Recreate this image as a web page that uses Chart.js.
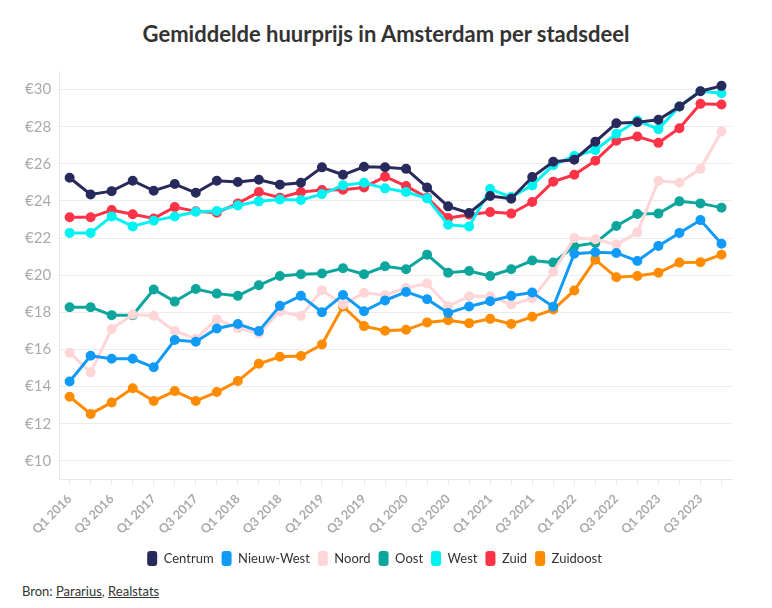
<!DOCTYPE html>
<html>
<head>
<meta charset="utf-8">
<script src="https://cdn.jsdelivr.net/npm/chart.js@4"></script>
<style>
  body { margin: 0; width: 772px; height: 608px; background: #fff; font-family: Lato, sans-serif; position: relative; overflow: hidden; }
  #title { position: absolute; top: 20px; left: 0; width: 772px; text-align: center; font-size: 22px; font-weight: bold; color: #333; }
  #wrap { position: absolute; top: 54px; left: 0; width: 772px; height: 522px; }
  #bron { position: absolute; top: 583px; left: 22px; font-size: 13px; color: #333; }
  #bron span { text-decoration: underline; }
</style>
</head>
<body>
<div id="title">Gemiddelde huurprijs in Amsterdam per stadsdeel</div>
<div id="wrap"><canvas id="chart"></canvas></div>
<div id="bron">Bron: <span>Pararius</span>, <span>Realstats</span></div>
<script>
// Quarters Q1 2016 .. Q4 2023
var quarters = [];
for (var y = 2016; y <= 2023; y++) {
    for (var q = 1; q <= 4; q++) {
        quarters.push('Q' + q + ' ' + y);
    }
}

var centrum = [25.25, 24.35, 24.53, 25.09, 24.55, 24.91, 24.44, 25.09, 25.02, 25.14, 24.88, 24.98, 25.81, 25.41, 25.84, 25.82,
    25.73, 24.73, 23.71, 23.35, 24.27, 24.12, 25.29, 26.11, 26.22, 27.19, 28.19, 28.24, 28.37, 29.09, 29.91, 30.2];
var nieuwWest = [14.28, 15.66, 15.5, 15.5, 15.04, 16.51, 16.42, 17.13, 17.37, 16.99, 18.35, 18.89, 18.01, 18.94, 18.06, 18.64,
    19.1, 18.71, 17.97, 18.32, 18.6, 18.89, 19.07, 18.3, 21.16, 21.24, 21.2, 20.77, 21.58, 22.28, 22.97, 21.7];
var noord = [15.83, 14.77, 17.1, 17.89, 17.82, 16.99, 16.58, 17.63, 17.15, 16.86, 18.05, 17.8, 19.19, 18.42, 19.05, 18.92,
    19.32, 19.55, 18.33, 18.87, 18.87, 18.42, 18.75, 20.18, 22.01, 21.94, 21.65, 22.31, 25.09, 24.98, 25.73, 27.74];
var oost = [18.28, 18.28, 17.85, 17.85, 19.23, 18.58, 19.26, 19.01, 18.89, 19.46, 19.96, 20.05, 20.09, 20.38, 20.05, 20.48,
    20.32, 21.11, 20.14, 20.23, 19.96, 20.32, 20.79, 20.68, 21.56, 21.74, 22.65, 23.3, 23.32, 23.98, 23.87, 23.64];
var west = [22.28, 22.28, 23.17, 22.63, 22.94, 23.16, 23.42, 23.46, 23.76, 23.98, 24.08, 24.05, 24.37, 24.84, 24.98, 24.68,
    24.48, 24.14, 22.72, 22.63, 24.64, 24.21, 24.84, 25.93, 26.42, 26.74, 27.62, 28.33, 27.87, 29.09, 29.91, 29.8];
var zuid = [23.12, 23.12, 23.51, 23.28, 23.06, 23.67, 23.44, 23.37, 23.87, 24.48, 24.18, 24.48, 24.59, 24.61, 24.73, 25.31,
    24.8, 24.19, 23.08, 23.26, 23.4, 23.32, 23.94, 25.04, 25.41, 26.17, 27.24, 27.47, 27.13, 27.92, 29.23, 29.2];
var zuidoost = [13.46, 12.53, 13.15, 13.91, 13.23, 13.76, 13.23, 13.71, 14.3, 15.23, 15.61, 15.65, 16.27, 18.32, 17.26, 17.01,
    17.06, 17.46, 17.58, 17.42, 17.65, 17.38, 17.76, 18.15, 19.18, 20.84, 19.89, 19.96, 20.13, 20.68, 20.7, 21.11];

var names = ['Centrum', 'Nieuw-West', 'Noord', 'Oost', 'West', 'Zuid', 'Zuidoost'];
var values = [centrum, nieuwWest, noord, oost, west, zuid, zuidoost];
var colors = ['#282a5c', '#119bf7', '#ffd6d8', '#0da69d', '#00f2f2', '#ff3348', '#ff8c00'];
var yTicks = [10, 12, 14, 16, 18, 20, 22, 24, 26, 28, 30];

var datasets = [];
for (var i = 0; i < names.length; i++) {
    datasets.push({
        label: names[i],
        data: values[i],
        borderColor: colors[i],
        backgroundColor: colors[i],
        borderWidth: 3,
        pointRadius: 3.5,
        pointHoverRadius: 3.5,
        tension: 0
    });
}

new Chart(document.getElementById('chart').getContext('2d'), {
    type: 'line',
    data: { labels: quarters, datasets: datasets },
    options: {
        responsive: true,
        maintainAspectRatio: false,
        animation: false,
        layout: { padding: { top: 2, left: 17, right: 40, bottom: 0 } },
        plugins: {
            legend: {
                position: 'bottom',
                labels: {
                    boxWidth: 10,
                    boxHeight: 15,
                    useBorderRadius: true,
                    borderRadius: 3,
                    padding: 8,
                    color: '#333',
                    font: { family: 'Lato', size: 13 },
                    generateLabels: function(chart) {
                        var items = Chart.defaults.plugins.legend.labels.generateLabels(chart);
                        items.forEach(function(it) { it.lineWidth = 0; it.strokeStyle = 'rgba(0,0,0,0)'; });
                        return items;
                    }
                }
            },
            tooltip: { enabled: false }
        },
        scales: {
            x: {
                offset: true,
                grid: { offset: false, drawOnChartArea: false, drawTicks: true, tickLength: 6, color: '#e8e8e8' },
                border: { color: '#e8e8e8' },
                ticks: {
                    autoSkip: false,
                    maxRotation: 45,
                    minRotation: 45,
                    padding: 6,
                    color: '#aaa',
                    font: { family: 'Lato', size: 12.5, weight: 'bold' },
                    callback: function(val, idx) {
                        return idx % 2 === 0 ? this.getLabelForValue(val) : '';
                    }
                }
            },
            y: {
                min: 9,
                max: 31,
                afterBuildTicks: function(axis) {
                    axis.ticks = yTicks.map(function(v) { return { value: v }; });
                },
                grid: { color: '#ececec', drawTicks: false },
                border: { color: '#e8e8e8' },
                ticks: {
                    padding: 8,
                    color: '#aaa',
                    font: { family: 'Lato', size: 15 },
                    callback: function(v) { return '€' + v; }
                }
            }
        }
    }
});
</script>
</body>
</html>
